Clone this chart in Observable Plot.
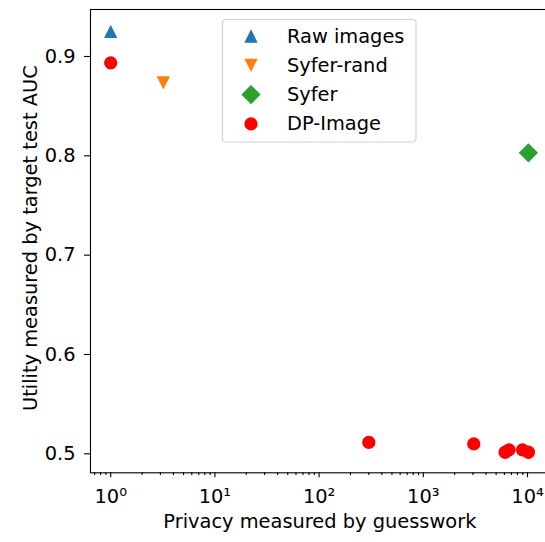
<!DOCTYPE html>
<html>
<head>
<meta charset="utf-8">
<script src="https://cdn.jsdelivr.net/npm/d3@7"></script>
<script src="https://cdn.jsdelivr.net/npm/@observablehq/plot@0.6"></script>
<style>
html, body { margin: 0; padding: 0; background: #fff; }
#chart { position: relative; width: 545px; height: 542px; overflow: hidden; }
#chart > svg { display: block; }
#legend { position: absolute; left: 0; top: 0; pointer-events: none; }
</style>
</head>
<body>
<div id="chart"></div>
<script>
// ---- data ----
const seriesNames = ["Raw images", "Syfer-rand", "Syfer", "DP-Image"];
const seriesColors = ["#1f77b4", "#ff7f0e", "#2ca02c", "#ff0000"];
const seriesShapes = ["triUp", "triDown", "diamond", "circle"];

const rawX = [1];
const rawY = [0.9252];
const syferRandX = [3.2];
const syferRandY = [0.8735];
const syferX = [10200];
const syferY = [0.803];
const dpX = [1, 300, 3050, 6100, 6650, 8950, 10200];
const dpY = [0.8936, 0.5115, 0.5100, 0.5016, 0.5040, 0.5040, 0.5016];

const xMajorTicks = [1, 10, 100, 1000, 10000];
const xTickLabels = ["10⁰", "10¹", "10²", "10³", "10⁴"];
const yTicks = [0.5, 0.6, 0.7, 0.8, 0.9];
const yTickLabels = ["0.5", "0.6", "0.7", "0.8", "0.9"];
const xLabel = "Privacy measured by guesswork";
const yLabel = "Utility measured by target test AUC";

// ---- marker shapes (matplotlib-like) ----
function drawShape(kind, ctx, r) {
  if (kind === "circle") {
    ctx.moveTo(r, 0);
    ctx.arc(0, 0, r, 0, 2 * Math.PI);
  } else if (kind === "triUp") {
    ctx.moveTo(0, -r); ctx.lineTo(r, r); ctx.lineTo(-r, r); ctx.closePath();
  } else if (kind === "triDown") {
    ctx.moveTo(0, r); ctx.lineTo(r, -r); ctx.lineTo(-r, -r); ctx.closePath();
  } else if (kind === "diamond") {
    const d = r * 1.45;
    ctx.moveTo(0, -d); ctx.lineTo(d, 0); ctx.lineTo(0, d); ctx.lineTo(-d, 0); ctx.closePath();
  }
}
function symbolOf(kind) {
  return { draw(ctx, size) { drawShape(kind, ctx, Math.sqrt(size / Math.PI)); } };
}

const toRows = (xs, ys) => xs.map((x, i) => ({ x, y: ys[i] }));
const seriesData = [toRows(rawX, rawY), toRows(syferRandX, syferRandY), toRows(syferX, syferY), toRows(dpX, dpY)];

const xDomain = [0.64, 16150];
const minorTicks = d3.scaleLog().domain(xDomain).ticks()
  .filter(v => Math.abs(Math.log10(v) - Math.round(Math.log10(v))) > 1e-9);

const markerR = 6.65;
const fontPx = 19.4;

const chart = Plot.plot({
  width: 545,
  height: 542,
  marginLeft: 90,
  marginRight: -3.7,
  marginTop: 9,
  marginBottom: 69.7,
  x: { type: "log", domain: xDomain },
  y: { domain: [0.4809, 0.9473] },
  style: { fontFamily: "DejaVu Sans", fontSize: fontPx + "px", color: "black", background: "white" },
  marks: [
    Plot.frame({ stroke: "black", strokeWidth: 1.1 }),
    Plot.axisX(minorTicks, { anchor: "bottom", tickSize: 2.8, strokeWidth: 1.1, label: null, tickFormat: () => "" }),
    Plot.axisX(xMajorTicks, {
      anchor: "bottom", tickSize: 5, tickPadding: 11, strokeWidth: 1.1, label: null,
      tickFormat: d => xTickLabels[xMajorTicks.indexOf(d)]
    }),
    Plot.axisY(yTicks, {
      anchor: "left", tickSize: 6, tickPadding: 9, strokeWidth: 1.1, label: null,
      tickFormat: d => yTickLabels[yTicks.indexOf(d)]
    }),
    ...seriesData.map((rows, k) => Plot.dot(rows, {
      x: "x", y: "y", r: markerR, symbol: symbolOf(seriesShapes[k]),
      fill: seriesColors[k], stroke: "none"
    })),
    Plot.text([xLabel], { text: d => d, frameAnchor: "bottom", dy: 55, fontSize: fontPx }),
    Plot.text([yLabel], { text: d => d, frameAnchor: "left", textAnchor: "middle", rotate: -90, dx: -59.5, dy: -3, fontSize: fontPx })
  ]
});
document.getElementById("chart").appendChild(chart);

// ---- legend (matplotlib-style box) ----
const lg = d3.select("#chart").append("svg")
  .attr("id", "legend").attr("width", 545).attr("height", 542);
lg.append("rect")
  .attr("x", 222.5).attr("y", 19.5).attr("width", 193.5).attr("height", 122.5)
  .attr("rx", 3.5).attr("fill", "white").attr("fill-opacity", 0.8)
  .attr("stroke", "#d0d0d0").attr("stroke-width", 1.1);
const rowH = 29.3, base0 = 42.5;
seriesNames.forEach((name, i) => {
  const by = base0 + i * rowH;
  const p = d3.path();
  drawShape(seriesShapes[i], p, markerR);
  lg.append("path").attr("d", p.toString())
    .attr("transform", `translate(251,${by - 6.5})`)
    .attr("fill", seriesColors[i]);
  lg.append("text").attr("x", 287).attr("y", by)
    .attr("font-family", "DejaVu Sans").attr("font-size", fontPx)
    .attr("fill", "black").text(name);
});
</script>
</body>
</html>
